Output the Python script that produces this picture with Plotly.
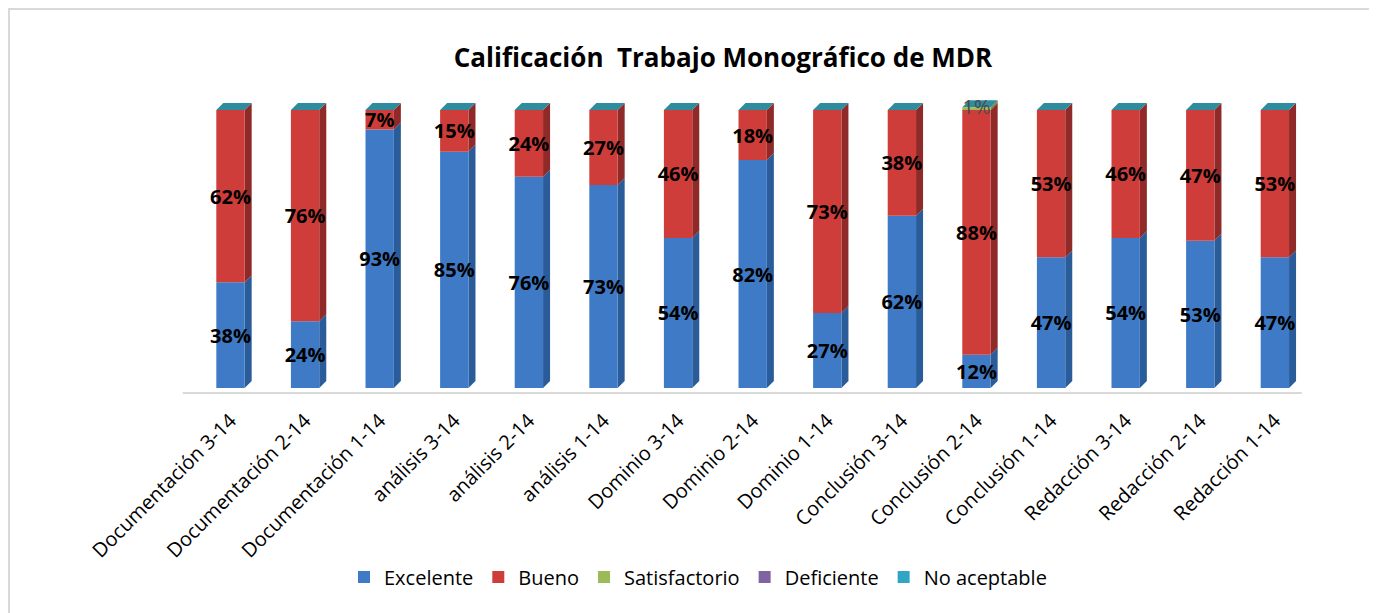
import plotly.graph_objects as go

categories = ["Documentación 3-14", "Documentación 2-14", "Documentación 1-14",
              "análisis 3-14", "análisis 2-14", "análisis 1-14",
              "Dominio 3-14", "Dominio 2-14", "Dominio 1-14",
              "Conclusión 3-14", "Conclusión 2-14", "Conclusión 1-14",
              "Redacción 3-14", "Redacción 2-14", "Redacción 1-14"]
excelente = [38, 24, 93, 85, 76, 73, 54, 82, 27, 62, 12, 47, 54, 53, 47]
bueno = [62, 76, 7, 15, 24, 27, 46, 18, 73, 38, 88, 53, 46, 47, 53]
satisfactorio = [0, 0, 0, 0, 0, 0, 0, 0, 0, 0, 1, 0, 0, 0, 0]
deficiente = [0] * 15
no_aceptable = [0] * 15

series = [
    ("Excelente", excelente, "#3F7AC6", "#2B5C9A", "#000000", "bold"),
    ("Bueno", bueno, "#CE3D3A", "#8F2A28", "#000000", "bold"),
    ("Satisfactorio", satisfactorio, "#9BBB59", "#71893F", "#4A4A4A", "normal"),
    ("Deficiente", deficiente, "#8064A2", "#5C4877", "#4A4A4A", "normal"),
    ("No aceptable", no_aceptable, "#31A6C4", "#2E8C9E", "#4A4A4A", "normal"),
]

FONT = "Open Sans"
W = 0.38      # bar width (category units)
DX = 0.094    # depth offset in x (category units)
DY = 2.5      # depth offset in y (percent units)
x = list(range(len(categories)))

# page has an 8px body margin: figure coordinates = reference pixels - 8
FW, FH = 1369, 605
L, R, T, B = 142, 57, 88, 209
PW, PH = FW - L - R, FH - T - B

fig = go.Figure()
shapes = []
small_x, small_y, small_t, small_c = [], [], [], []
base = [0.0] * len(categories)
for name, vals, col, side, tcol, weight in series:
    big = weight == "bold"
    fig.add_trace(go.Bar(
        x=x, y=vals, base=base[:], name=name, width=W,
        marker=dict(color=col, line=dict(width=0)),
        text=[f"{v}%" if (v and big) else "" for v in vals],
        textposition="inside", insidetextanchor="middle", textangle=0,
        constraintext="none",
        textfont=dict(family=FONT, size=20, color=tcol, weight=weight),
        cliponaxis=False,
        hoverinfo="skip",
    ))
    for i, v in enumerate(vals):
        if v > 0:
            xr = i + W / 2
            y0, y1 = base[i], base[i] + v
            shapes.append(dict(
                type="path", xref="x", yref="y", layer="below",
                path=f"M {xr},{y0} L {xr + DX},{y0 + DY} L {xr + DX},{y1 + DY} L {xr},{y1} Z",
                fillcolor=side, line=dict(width=0)))
            if not big:
                small_x.append(i)
                small_y.append(y0 + v / 2)
                small_t.append(f"{v}%")
                small_c.append(tcol)
        base[i] += v

# labels of tiny segments (kept at full size)
fig.add_trace(go.Scatter(
    x=small_x, y=small_y, text=small_t, mode="text", textposition="middle center",
    textfont=dict(family=FONT, size=20, color=small_c), showlegend=False,
    hoverinfo="skip", cliponaxis=False))

# top caps (top face of each 3D column)
for i, top in enumerate(base):
    xl, xr = i - W / 2, i + W / 2
    shapes.append(dict(
        type="path", xref="x", yref="y", layer="below",
        path=f"M {xl},{top} L {xl + DX},{top + DY} L {xr + DX},{top + DY} L {xr},{top} Z",
        fillcolor="#2E8C9E", line=dict(width=0)))

# floor edge
shapes.append(dict(type="line", xref="x", yref="y", x0=-0.64, x1=len(categories) - 0.64,
                   y0=-1.8, y1=-1.8, line=dict(color="#D9D9D9", width=2), layer="below"))

# chart frame (top and left edges visible)
def px2paper_x(px): return (px - L) / PW
def py2paper_y(py): return (FH - B - py) / PH
shapes.append(dict(type="line", xref="paper", yref="paper",
                   x0=px2paper_x(1), x1=px2paper_x(1), y0=py2paper_y(0), y1=py2paper_y(FH + 5),
                   line=dict(color="#D9D9D9", width=2)))
shapes.append(dict(type="line", xref="paper", yref="paper",
                   x0=px2paper_x(0), x1=px2paper_x(FW + 5), y0=py2paper_y(1), y1=py2paper_y(1),
                   line=dict(color="#D9D9D9", width=2)))

fig.update_layout(
    width=FW, height=FH,
    margin=dict(l=L, r=R, t=T, b=B, autoexpand=False),
    barmode="overlay",
    paper_bgcolor="white", plot_bgcolor="white",
    title=dict(text="<b>Calificación  Trabajo Monográfico de MDR</b>",
               font=dict(family=FONT, size=26, color="#000000"),
               xref="container", x=715 / FW, xanchor="center",
               yref="container", y=1 - 50 / FH, yanchor="middle"),
    xaxis=dict(range=[-1.079, 14.605], tickmode="array", tickvals=x, ticktext=categories,
               tickangle=-45, tickfont=dict(family=FONT, size=20, color="#000000"),
               showgrid=False, zeroline=False, showline=False, ticks="", automargin=False),
    yaxis=dict(range=[-5.76, 105.04], visible=False, showgrid=False, zeroline=False),
    legend=dict(orientation="h", xref="container", yref="container",
                x=690 / FW, xanchor="center", y=1 - 569 / FH, yanchor="middle",
                font=dict(family=FONT, size=20, color="#000000"),
                itemwidth=30, traceorder="normal"),
    shapes=shapes,
)

fig.write_html("out.html")
